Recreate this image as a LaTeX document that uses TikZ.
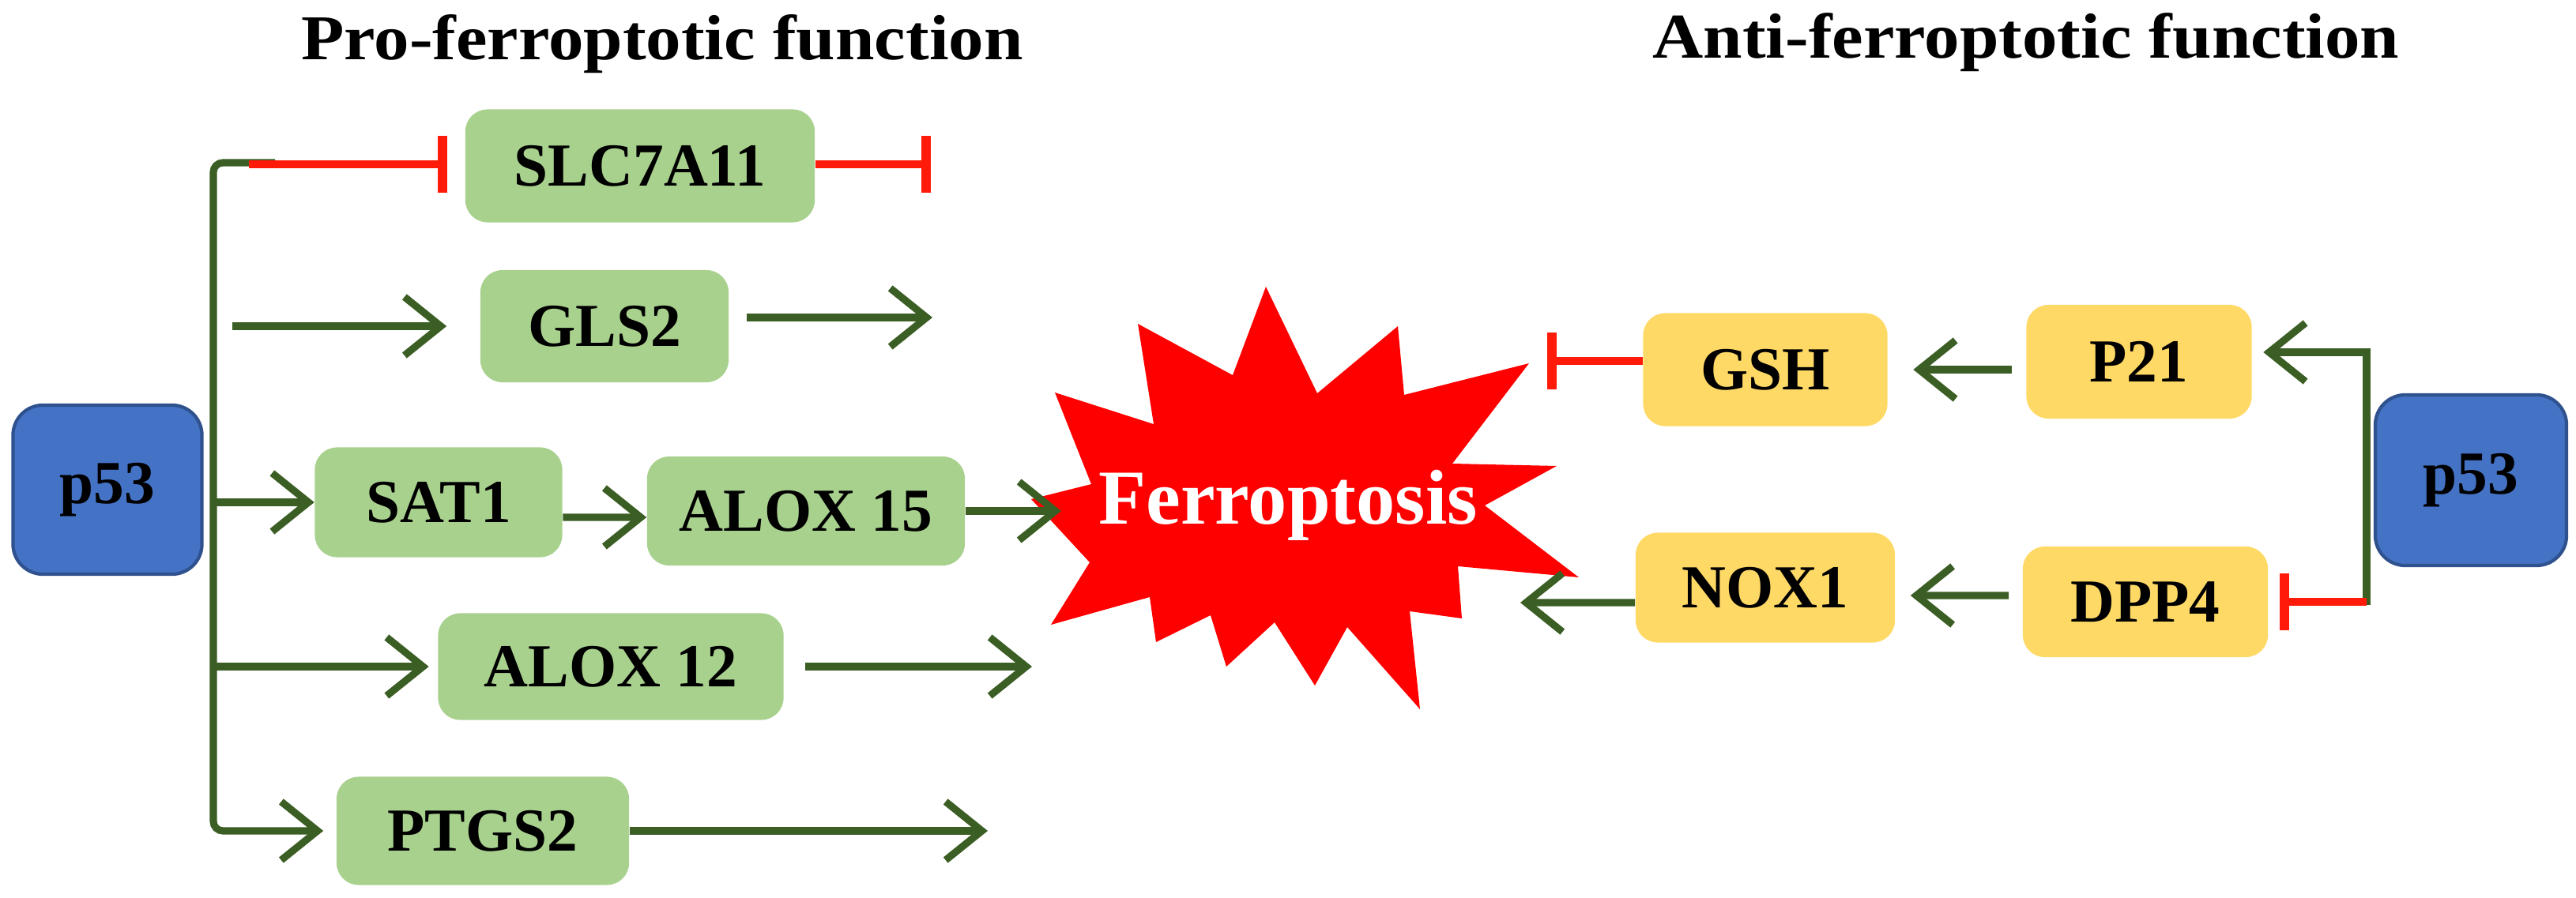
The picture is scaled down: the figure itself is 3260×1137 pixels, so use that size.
\documentclass[tikz,border=0pt]{standalone}
\usepackage{fontspec}
\setmainfont{Liberation Serif}
\newfontfamily\titlefam{Liberation Serif}[FakeStretch=1.1]
\usetikzlibrary{arrows.meta}
\definecolor{boxgreen}{HTML}{A9D18E}
\definecolor{boxyellow}{HTML}{FFD966}
\definecolor{pblue}{HTML}{4472C4}
\definecolor{pedge}{HTML}{2F528F}
\definecolor{agreen}{HTML}{3B5E24}
\definecolor{inhred}{HTML}{FF1A0A}
\newcommand\boxlblfont{\fontsize{22}{26}\selectfont\bfseries}
\newcommand\titlelblfont{\titlefam\fontsize{23}{27}\selectfont\bfseries}
\newcommand\ferrofont{\fontsize{28}{32}\selectfont\bfseries}
\tikzset{
  gbox/.style={rectangle, rounded corners=0.28cm, fill=boxgreen, font=\boxlblfont, inner sep=0pt},
  ybox/.style={rectangle, rounded corners=0.28cm, fill=boxyellow, font=\boxlblfont, inner sep=0pt},
  pbox/.style={rectangle, rounded corners=0.38cm, fill=pblue, draw=pedge, line width=1.2pt, font=\boxlblfont, inner sep=0pt},
  garrow/.style={draw=agreen, line width=2.6pt, -{Straight Barb[length=0.46cm,width=0.74cm]}},
  inh/.style={draw=inhred, line width=2.6pt, -{Bar[width=0.72cm, line width'=3.4pt]}},
  titlelbl/.style={font=\titlelblfont, anchor=base, inner sep=0pt},
}
\begin{document}
\begin{tikzpicture}[x=0.01cm,y=-0.01cm]
\path[use as bounding box, fill=white] (0,0) rectangle (3260,1137);

% titles
\node[titlelbl] (tpro) at (838,76) {Pro-ferroptotic function};
\node[titlelbl] (tanti) at (2564,74) {Anti-ferroptotic function};

% star
\fill[red] (1602,363) -- (1667,498) -- (1769,413) -- (1777,500) -- (1935,460)
  -- (1838,587) -- (1970,590) -- (1879,640) -- (1998,731) -- (1845,717)
  -- (1850,783) -- (1784,774) -- (1797,898) -- (1705,794) -- (1664,868)
  -- (1613,788) -- (1552,844) -- (1532,779) -- (1463,813) -- (1455,756)
  -- (1330,791) -- (1379,712) -- (1305,632) -- (1381,613) -- (1335,497)
  -- (1460,537) -- (1440,410) -- (1560,475) -- cycle;
\node[font=\ferrofont, text=white, anchor=base, inner sep=0pt] (ferro) at (1630,664) {Ferroptosis};

% nodes
\node[pbox, minimum width=2.39cm, minimum height=2.14cm] (p53L) at (136,620) {p53};
\node[gbox, minimum width=4.42cm, minimum height=1.43cm] (slc) at (810,210) {SLC7A11};
\node[gbox, minimum width=3.14cm, minimum height=1.42cm] (gls) at (765,413) {GLS2};
\node[gbox, minimum width=3.13cm, minimum height=1.39cm] (sat) at (555,636) {SAT1};
\node[gbox, minimum width=4.02cm, minimum height=1.38cm] (a15) at (1020,647) {ALOX 15};
\node[gbox, minimum width=4.37cm, minimum height=1.35cm] (a12) at (773,844) {ALOX 12};
\node[gbox, minimum width=3.70cm, minimum height=1.37cm] (ptg) at (611,1052) {PTGS2};
\node[ybox, minimum width=3.09cm, minimum height=1.43cm] (gsh) at (2234,468) {GSH};
\node[ybox, minimum width=2.85cm, minimum height=1.44cm] (p21) at (2707,458) {P21};
\node[ybox, minimum width=3.10cm, minimum height=1.40cm] (dpp) at (2715,762) {DPP4};
\node[ybox, minimum width=3.28cm, minimum height=1.39cm] (nox) at (2234,744) {NOX1};
\node[pbox, minimum width=2.42cm, minimum height=2.16cm] (p53R) at (3127,608) {p53};

% coordinates for free ends
\coordinate (ltop) at (270,206);
\coordinate (lstub) at (348,206);
\coordinate (redstart) at (315,208);
\coordinate (glsin) at (294,413);
\coordinate (glsout) at (1180,402);
\coordinate (slcout) at (1178,208);
\coordinate (a15out) at (1343,647);
\coordinate (a12out) at (1306,844);
\coordinate (ptgout) at (1250,1052);
\coordinate (gshbar) at (1958,457);
\coordinate (noxout) at (1924,763);
\coordinate (rtop) at (2995,446);
\coordinate (rbot) at (2995,766);

% left connectors
\draw[garrow, rounded corners=0.12cm, shorten >=0.16cm] (lstub) -- (ltop) -- (ltop |- ptg.west) -- (ptg.west);
\draw[inh, shorten >=0.22cm] (redstart) -- (redstart -| slc.west);
\draw[inh] (slc.east |- slcout) -- (slcout);
\draw[garrow, shorten >=0.42cm] (glsin) -- (gls.west);
\draw[garrow, shorten <=0.22cm] (gls.east |- glsout) -- (glsout);
\draw[garrow] (ltop |- sat.west) -- (sat.west);
\draw[garrow] ([yshift=-0.19cm]sat.east) -- ([yshift=-0.08cm]a15.west);
\draw[garrow] (a15.east) -- (a15out);
\draw[garrow, shorten >=0.11cm] (ltop |- a12.west) -- (a12.west);
\draw[garrow, shorten <=0.27cm] (a12.east) -- (a12out);
\draw[garrow] (ptg.east) -- (ptgout);

% right connectors
\draw[garrow, shorten >=0.14cm] (rbot) -- (rtop) -- (rtop -| p21.east);
\draw[inh, shorten >=0.14cm] (rbot |- dpp.east) -- (dpp.east);
\draw[garrow, shorten <=0.18cm, shorten >=0.32cm] (p21.west |- gsh.east) -- (gsh.east);
\draw[inh] (gsh.west |- gshbar) -- (gshbar);
\draw[garrow, shorten <=0.17cm, shorten >=0.19cm] ([yshift=0.08cm]dpp.west) -- ([yshift=-0.10cm]nox.east);
\draw[garrow] ([yshift=-0.19cm]nox.west) -- (noxout);
\end{tikzpicture}
\end{document}
